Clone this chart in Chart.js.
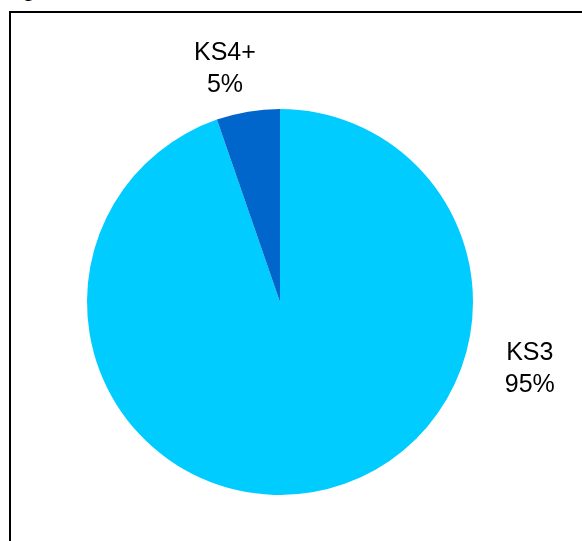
<!DOCTYPE html>
<html>
<head>
<meta charset="utf-8">
<script src="https://cdn.jsdelivr.net/npm/chart.js@4.4.0/dist/chart.umd.min.js"></script>
<style>
    html, body { margin: 0; padding: 0; background: #fff; overflow: hidden; }
    #wrap { position: relative; width: 582px; height: 541px; }
    #frame { position: absolute; left: 9px; top: 11px; width: 620px; height: 600px; border: 2px solid #000; box-sizing: border-box; }
    #title { position: absolute; left: 22px; top: -24px; font: 24px "Liberation Sans", Arial, sans-serif; line-height: 24px; color: #000; }
    canvas { position: absolute; left: 0; top: 0; }
</style>
</head>
<body>
<div id="wrap">
    <div id="title">g</div>
    <div id="frame"></div>
    <canvas id="pieChart" width="582" height="541"></canvas>
</div>
<script>
const categories = ["KS3", "KS4+"];
const shares = [94.7, 5.3];
const sliceColors = ["#00CCFF", "#0066CC"];
// where each label sits, degrees clockwise from 12 o'clock
const labelAngles = [105, -13.3];
const labelDist = [1.34, 1.24];

const outsideLabels = {
    id: 'outsideLabels',
    afterDatasetsDraw(chart) {
        const ctx = chart.ctx;
        const meta = chart.getDatasetMeta(0);
        const total = shares.reduce((a, b) => a + b, 0);
        ctx.save();
        ctx.fillStyle = '#000';
        ctx.font = '25px "Liberation Sans", Arial, sans-serif';
        ctx.textAlign = 'center';
        ctx.textBaseline = 'middle';
        meta.data.forEach((arc, i) => {
            const a = labelAngles[i] * Math.PI / 180;
            const dist = arc.outerRadius * labelDist[i];
            const x = arc.x + Math.sin(a) * dist;
            const y = arc.y - Math.cos(a) * dist;
            const pct = Math.round(shares[i] / total * 100) + '%';
            ctx.fillText(categories[i], x, y - 16);
            ctx.fillText(pct, x, y + 16);
        });
        ctx.restore();
    }
};

new Chart(document.getElementById('pieChart').getContext('2d'), {
    type: 'pie',
    data: {
        labels: categories,
        datasets: [{
            data: shares,
            backgroundColor: sliceColors,
            borderWidth: 0
        }]
    },
    options: {
        responsive: false,
        maintainAspectRatio: false,
        animation: false,
        layout: { padding: { top: 109, bottom: 46, left: 87, right: 109 } },
        plugins: {
            legend: { display: false },
            tooltip: { enabled: false }
        }
    },
    plugins: [outsideLabels]
});
</script>
</body>
</html>
